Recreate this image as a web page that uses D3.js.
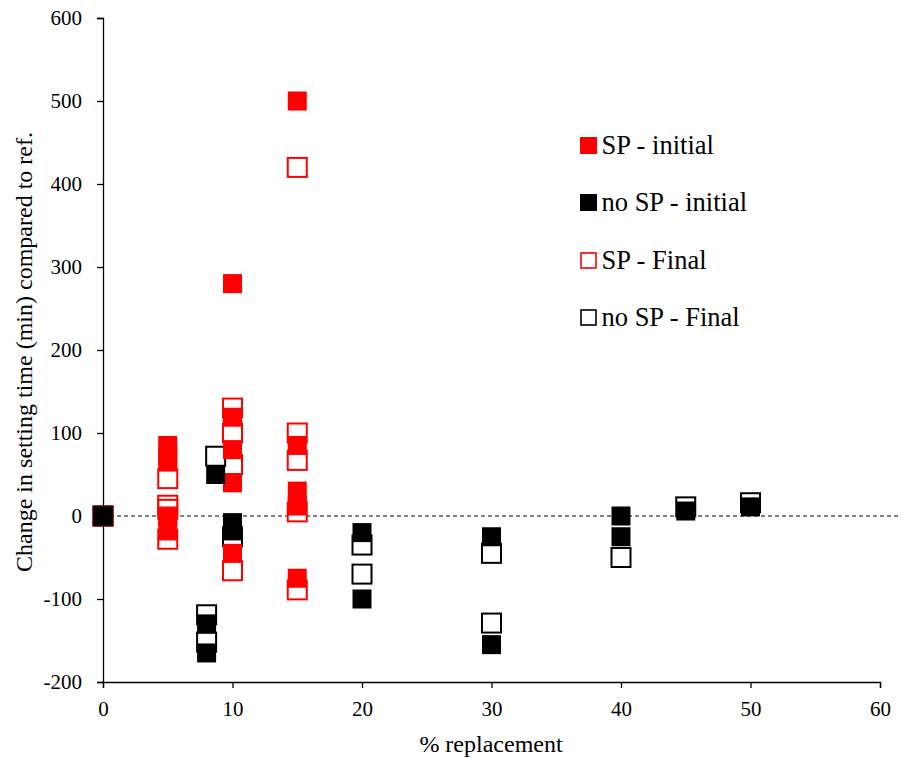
<!DOCTYPE html>
<html><head><meta charset="utf-8">
<script src="https://cdn.jsdelivr.net/npm/d3@7"></script>
<style>body{margin:0;background:#fff} svg text{font-family:"Liberation Serif","Times New Roman","DejaVu Serif",serif}</style>
</head><body>
<svg id="c" width="903" height="758"></svg>
<script>
// Data: [% replacement, change in setting time (min)]
const spInitial = [[0,0],[5,85],[5,72],[5,65],[5,0],[5,-18],[10,280],[10,119],[10,80],[10,40],[10,-45],[15,500],[15,85],[15,30],[15,12],[15,-75]];
const noSpInitial = [[0,0],[8.7,50],[8,-130],[8,-165],[10,-8],[10,-18],[20,-20],[20,-100],[30,-25],[30,-155],[40,0],[40,-25],[45,6],[50,11]];
const spFinal = [[0,0],[5,45],[5,13],[5,8],[5,-28],[10,130],[10,100],[10,62],[10,-66],[15,420],[15,100],[15,67],[15,5],[15,-89]];
const noSpFinal = [[0,0],[8.7,72],[8,-119],[8,-152],[10,-25],[20,-35],[20,-70],[30,-45],[30,-129],[40,-50],[45,11],[50,16]];
const xTicks = [0,10,20,30,40,50,60];
const yTicks = [-200,-100,0,100,200,300,400,500,600];
const legendLabels = ["SP - initial","no SP - initial","SP - Final","no SP - Final"];

const svg = d3.select("#c");
const font = '"Liberation Serif","Times New Roman","DejaVu Serif",serif';
const x = d3.scaleLinear().domain([0,60]).range([103,880]);
const y = d3.scaleLinear().domain([-200,600]).range([682,18]);

// zero dashed line
svg.append("line").attr("x1",x(0)).attr("x2",x(61.6)).attr("y1",y(0)).attr("y2",y(0))
  .attr("stroke","#000").attr("stroke-width",1).attr("stroke-dasharray","4,3");

// axes
const fmt = d => String(d); // hyphen-minus like the reference
const yAxis = svg.append("g").attr("transform",`translate(${x(0)},0)`)
  .call(d3.axisLeft(y).tickValues(yTicks).tickFormat(fmt).tickSize(6).tickPadding(15));
const xAxis = svg.append("g").attr("transform",`translate(0,${y(-200)})`)
  .call(d3.axisBottom(x).tickValues(xTicks).tickFormat(fmt).tickSize(6).tickPadding(13));
[yAxis,xAxis].forEach(g=>{
  g.attr("font-family",null);
  g.select(".domain").attr("stroke","#000").attr("stroke-width",1.3);
  g.selectAll(".tick line").attr("stroke","#000").attr("stroke-width",1.3);
  g.selectAll("text").style("font-family",font).attr("font-size",21).attr("fill","#000");
});

const S = 19;
function drawSeries(data, fill, stroke, open){
  svg.append("g").selectAll("rect").data(data).join("rect")
    .attr("x",d=>x(d[0])-S/2).attr("y",d=>y(d[1])-S/2)
    .attr("width",S).attr("height",S)
    .attr("fill",open?"#fff":fill)
    .attr("stroke",stroke).attr("stroke-width",open?2:0);
}
drawSeries(spFinal,"#fff","#ff0000",true);
drawSeries(noSpFinal,"#fff","#000",true);
drawSeries(spInitial,"#ff0000","none",false);
drawSeries(noSpInitial,"#000","none",false);

// titles
svg.append("text").attr("x",491).attr("y",752).attr("text-anchor","middle")
  .style("font-family",font).attr("font-size",24).text("% replacement");
svg.append("text").attr("transform","translate(32,352) rotate(-90)").attr("text-anchor","middle")
  .style("font-family",font).attr("font-size",24).text("Change in setting time (min) compared to ref.");

// legend
const legStyles = [
  {fill:"#ff0000",stroke:"none",open:false},
  {fill:"#000",stroke:"none",open:false},
  {fill:"#fff",stroke:"#ff0000",open:true},
  {fill:"#fff",stroke:"#000",open:true}
];
const legY = [145.5,202.5,260.5,317.5];
const lg = svg.append("g");
legendLabels.forEach((t,i)=>{
  const st = legStyles[i];
  const s = st.open?15:17;
  lg.append("rect").attr("x",588.5-s/2).attr("y",legY[i]-s/2).attr("width",s).attr("height",s)
    .attr("fill",st.fill).attr("stroke",st.stroke).attr("stroke-width",st.open?1.6:0);
  lg.append("text").attr("x",601.5).attr("y",legY[i]+8).style("font-family",font)
    .attr("font-size",26.5).text(t);
});
</script>
</body></html>
